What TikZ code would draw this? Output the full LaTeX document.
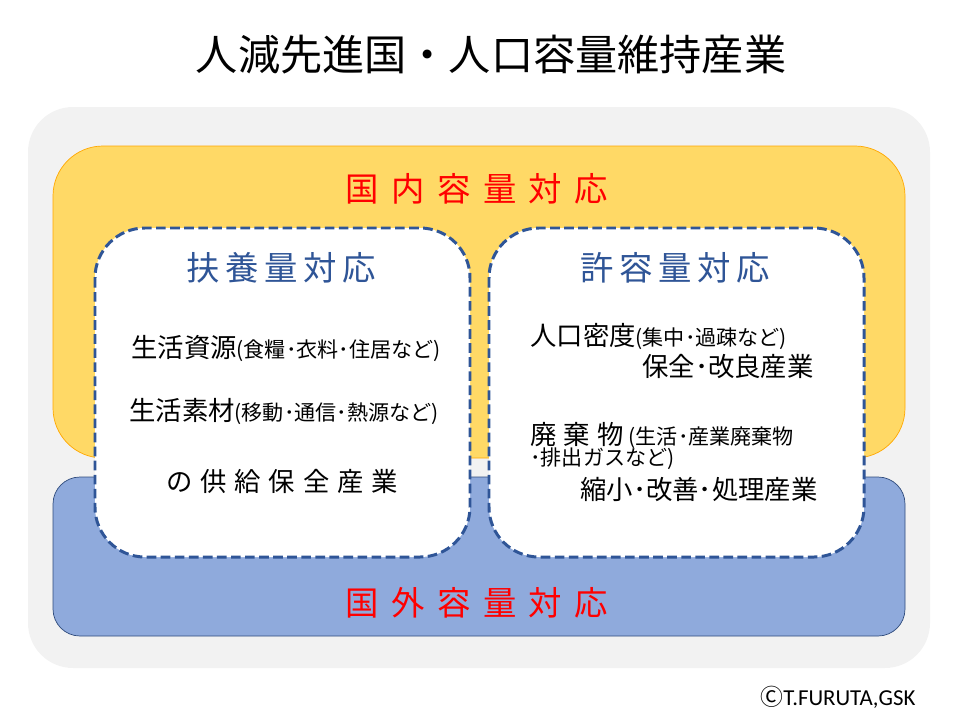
\documentclass[tikz,border=0pt]{standalone}
\usepackage{fontspec}
\setmainfont{Noto Sans CJK JP}
\newfontfamily\latinfont{Carlito}
\usetikzlibrary{positioning}
\definecolor{frameGray}{HTML}{F2F2F2}
\definecolor{homeFill}{HTML}{FFD966}
\definecolor{homeLine}{HTML}{FFA800}
\definecolor{abroadFill}{HTML}{8FAADC}
\definecolor{abroadLine}{HTML}{2F4B7C}
\definecolor{dashBlue}{HTML}{2F5597}
\definecolor{headRed}{HTML}{FF0000}
\newcommand{\smallnote}[1]{{\fontsize{12}{14}\selectfont #1}}

\begin{document}
\begin{tikzpicture}[x=0.02cm, y=-0.02cm,
    redhead/.style={text=headRed, font=\fontsize{19}{21}\selectfont\addfontfeature{LetterSpace=37}},
    bluehead/.style={text=dashBlue, font=\fontsize{19}{21}\selectfont\addfontfeature{LetterSpace=17}},
    body/.style={inner sep=0pt, font=\fontsize{15}{17}\selectfont},
    innerbox/.style={fill=white, draw=dashBlue, line width=1.7pt, dash pattern=on 5.5pt off 2.5pt, rounded corners=1cm}]
        \useasboundingbox (0,0) rectangle (960,720);

        % Title
        \node[font=\fontsize{24}{26}\selectfont] (title) at (491, 55) {人減先進国・人口容量維持産業};

        % Frame and capacity boxes
        \path[fill=frameGray, rounded corners=0.9cm] (28, 107) rectangle (930, 668);
        \path[fill=homeFill, draw=homeLine, thin, rounded corners=1cm] (53, 146) rectangle (905, 458);
        \path[fill=abroadFill, draw=abroadLine, thin, rounded corners=0.54cm] (53, 477) rectangle (905, 636);
        \node[redhead] (home) at (477, 189) {国内容量対応};
        \node[redhead] (abroad) at (477, 603) {国外容量対応};

        % Left box
        \path[innerbox] (95, 228) rectangle (470, 557);
        \node[bluehead] (support) at (281, 268) {扶養量対応};
        \node[body] (s1) at (286, 348) {生活資源\smallnote{(食糧･衣料･住居など)}};
        \node[body] (s2) at (284, 411) {生活素材\smallnote{(移動･通信･熱源など)}};
        \node[body, font=\fontsize{15}{17}\selectfont\addfontfeature{LetterSpace=30}] (s3) at (282, 481) {の供給保全産業};

        % Right box
        \path[innerbox] (489, 228) rectangle (864, 557);
        \node[bluehead] (permit) at (675, 268) {許容量対応};
        \node[body, anchor=west] (p1) at (530, 336) {人口密度\smallnote{(集中･過疎など)}};
        \node[body, anchor=west] (p2) at (642, 367) {保全･改良産業};
        \node[body, anchor=west] (p3) at (530, 435) {廃\hspace{4pt}棄\hspace{4pt}物\hspace{3pt}\smallnote{(生活･産業廃棄物}};
        \node[body, anchor=west] (p4) at (530, 459) {\smallnote{･排出ガスなど)}};
        \node[body, anchor=west] (p5) at (580, 490) {縮小･改善･処理産業};

        % Credit
        \node[font=\latinfont\fontsize{13}{15}\selectfont] (credit) at (838, 697) {{\rmfamily Ⓒ}T.FURUTA,GSK};
    \end{tikzpicture}
\end{document}
